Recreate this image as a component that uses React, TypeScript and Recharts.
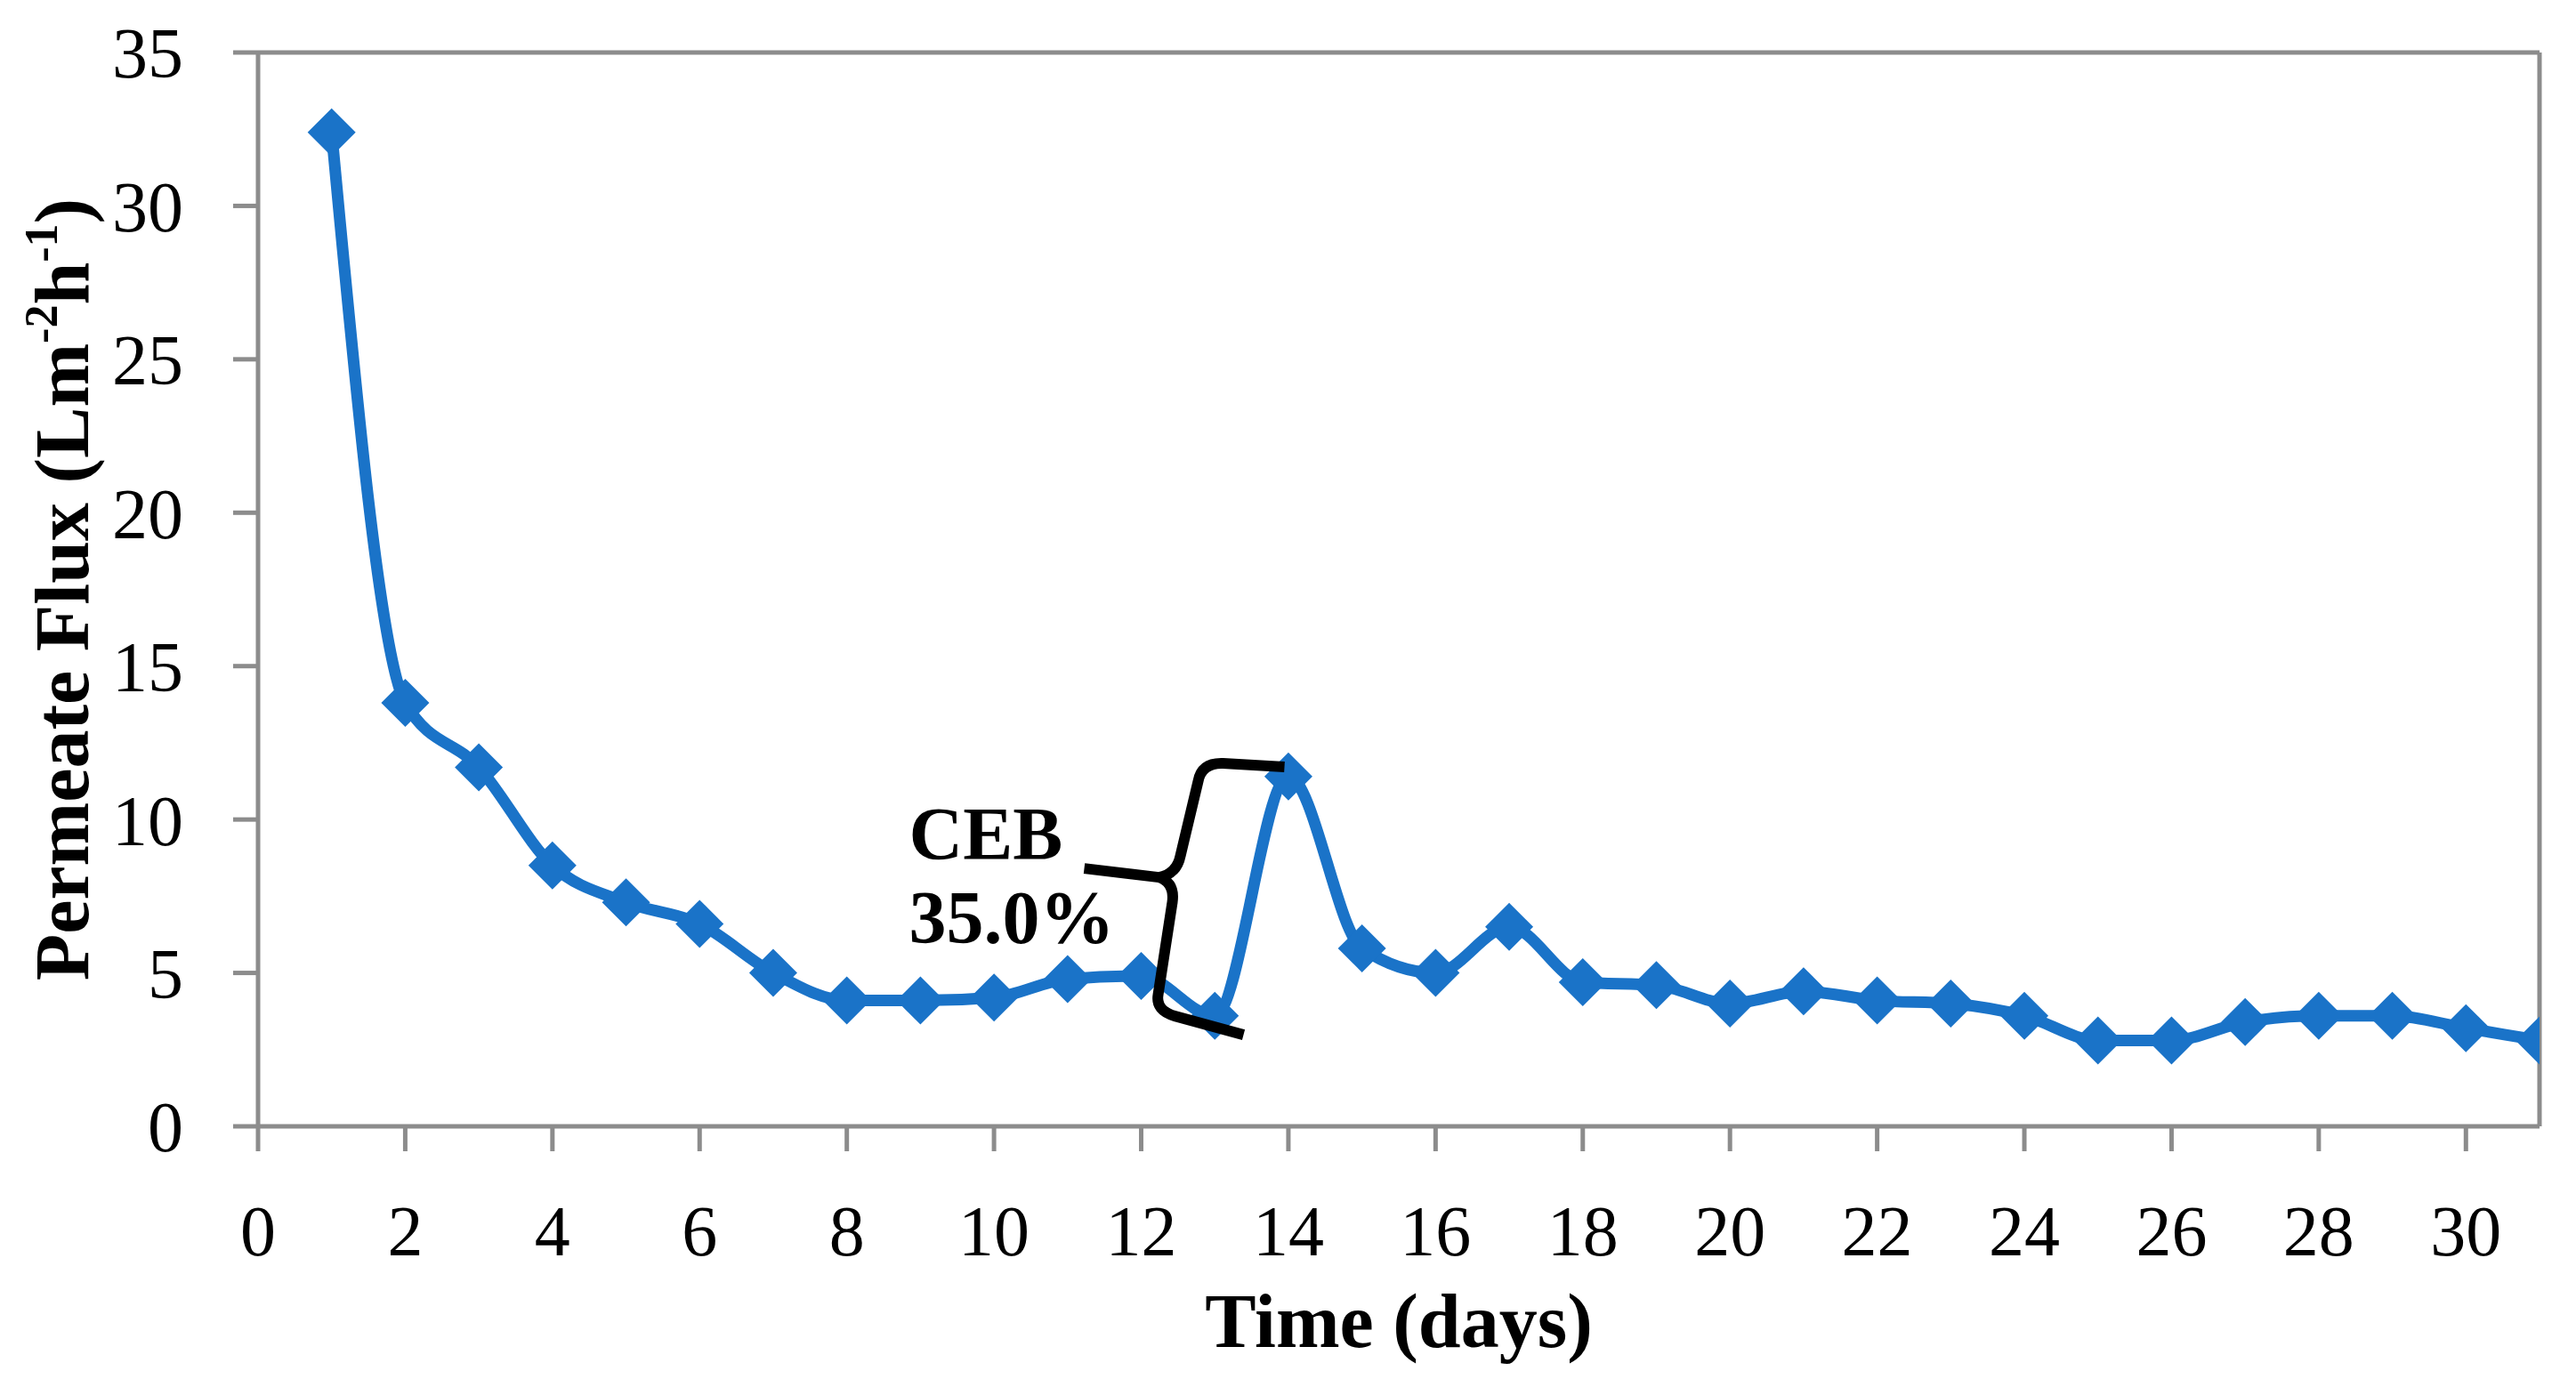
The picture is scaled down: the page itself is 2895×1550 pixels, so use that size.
import React from 'react';
import { LineChart, Line, XAxis, YAxis, ReferenceLine, ReferenceDot, Label } from 'recharts';

const days = [1,2,3,4,5,6,7,8,9,10,11,12,13,14,15,16,17,18,19,20,21,22,23,24,25,26,27,28,29,30,31];
const flux = [32.4,13.8,11.7,8.5,7.3,6.6,5.0,4.1,4.1,4.2,4.8,4.9,3.6,11.4,5.8,5.0,6.5,4.7,4.6,4.0,4.4,4.1,4.0,3.6,2.8,2.8,3.4,3.6,3.6,3.2,2.8];
const xTicks = [0,2,4,6,8,10,12,14,16,18,20,22,24,26,28,30];
const yTicks = [0,5,10,15,20,25,30,35];
const annotationLines = ['CEB', '35.0%'];

const data = days.map((d, i) => ({ day: d, flux: flux[i] }));

const FONT = '"Liberation Serif", "Times New Roman", serif';
const BLUE = '#1a73c8';
const GRAY = '#8c8c8c';

const Diamond = (props: any) => {
  const { cx, cy, index } = props;
  if (cx == null || cy == null) return <g key={index} />;
  const s = 27;
  return <path key={index} d={`M ${cx} ${cy - s} L ${cx + s} ${cy} L ${cx} ${cy + s} L ${cx - s} ${cy} Z`} fill={BLUE} />;
};

const Brace = (props: any) => {
  const { cx, cy } = props;
  if (cx == null || cy == null) return <g />;
  const d = `M 161 -128 L 92 -132 Q 68 -133 64 -112 L 44 -28 Q 40 -8 20 -4 L -64 -14 M 20 -4 Q 38 2 35 24 L 19 128 Q 16 146 38 152 L 115 173`;
  return (
    <g transform={`translate(${cx}, ${cy})`}>
      <path d={d} fill="none" stroke="#000" strokeWidth={12} strokeLinejoin="round" />
      <text x={-261} y={-24} fontFamily={FONT} fontWeight="bold" fontSize={84} fill="#000">{annotationLines[0]}</text>
      <text x={-261} y={70} fontFamily={FONT} fontWeight="bold" fontSize={84} fill="#000">{annotationLines[1]}</text>
    </g>
  );
};

const YTitle = (props: any) => {
  const vb = props.viewBox || { x: 0, y: 0, width: 0, height: 0 };
  const x = vb.x + 62;
  const y = vb.y + vb.height / 2;
  return (
    <text x={x} y={y} transform={`rotate(-90, ${x}, ${y})`} textAnchor="middle" dominantBaseline="central"
      fontFamily={FONT} fontWeight="bold" fontSize={86} fill="#000">
      Permeate Flux (Lm<tspan dy={-24} fontSize={52}>-2</tspan><tspan dy={24}>h</tspan><tspan dy={-24} fontSize={52}>-1</tspan><tspan dy={24}>)</tspan>
    </text>
  );
};

const XTitle = (props: any) => {
  const vb = props.viewBox || { x: 0, y: 0, width: 0, height: 0 };
  return (
    <text x={vb.x + vb.width / 2} y={vb.y + vb.height - 24} textAnchor="middle"
      fontFamily={FONT} fontWeight="bold" fontSize={86} fill="#000">Time (days)</text>
  );
};

export default function App() {
  return (
    <LineChart width={2879} height={1530} data={data} margin={{ top: 51, right: 33, bottom: 0, left: 0 }}>
      <XAxis dataKey="day" type="number" domain={[0, 31]} ticks={xTicks} interval={0} allowDataOverflow
        stroke={GRAY} strokeWidth={5} tickSize={28} tickMargin={60} height={272}
        tick={{ fill: '#000', fontFamily: FONT, fontSize: 80 }}>
        <Label content={<XTitle />} />
      </XAxis>
      <YAxis type="number" domain={[0, 35]} ticks={yTicks} interval={0} allowDataOverflow
        stroke={GRAY} strokeWidth={5} tickSize={28} tickMargin={56} width={282}
        tick={{ fill: '#000', fontFamily: FONT, fontSize: 80 }}>
        <Label content={<YTitle />} />
      </YAxis>
      <ReferenceLine y={35} stroke={GRAY} strokeWidth={5} />
      <ReferenceLine x={31} stroke={GRAY} strokeWidth={5} />
      <Line type="monotone" dataKey="flux" stroke={BLUE} strokeWidth={13} dot={<Diamond />} activeDot={false} isAnimationActive={false} />
      <ReferenceDot x={12} y={8} r={0} shape={<Brace />} />
    </LineChart>
  );
}
